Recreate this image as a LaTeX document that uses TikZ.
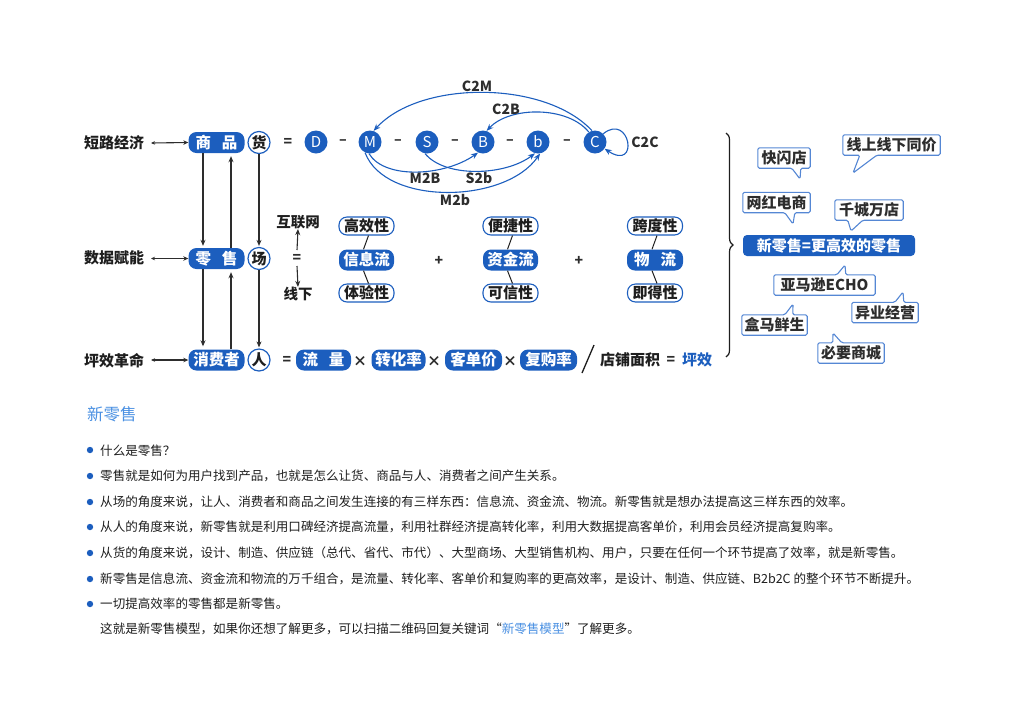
\documentclass[tikz,border=0pt]{standalone}
\usepackage{fontspec}
\setmainfont{Noto Sans CJK SC}
\usetikzlibrary{arrows.meta,calc,decorations.pathreplacing}
\definecolor{blu}{RGB}{28,94,190}
\definecolor{cb}{RGB}{85,135,212}
\definecolor{ttl}{RGB}{74,144,226}
\definecolor{txt}{RGB}{30,30,30}
\definecolor{gr}{RGB}{45,45,45}
\newcommand\fs[1]{\fontsize{#1}{#1}\selectfont}
\newcommand\callB[4]{\draw[cbord] (#1.north west) -- (#1.north east) -- (#1.south east) -- ($(#1.south west)+(#3,0)$) -- #4 -- ($(#1.south west)+(#2,0)$) -- (#1.south west) -- cycle;}
\newcommand\callT[4]{\draw[cbord] (#1.south west) -- (#1.south east) -- (#1.north east) -- ($(#1.north west)+(#3,0)$) -- #4 -- ($(#1.north west)+(#2,0)$) -- (#1.north west) -- cycle;}
\begin{document}
\begin{tikzpicture}[x=1pt,y=-1pt,
  lab/.style={font=\bfseries\fs{15}, text=txt, inner sep=0pt},
  sym/.style={font=\bfseries\fs{14}, text=gr, inner sep=0pt},
  pill/.style={fill=blu, text=white, font=\bfseries\fs{15.5}, rounded corners=8pt, minimum height=21pt, minimum width=56pt, inner sep=0pt},
  opill/.style={draw=blu, fill=white, line width=1.1pt, text=txt, font=\bfseries\fs{15}, rounded corners=8pt, minimum height=18pt, minimum width=55pt, inner sep=0pt},
  circ/.style={circle, fill=blu, text=white, minimum size=23pt, inner sep=0pt, font=\fs{15}},
  ocirc/.style={circle, draw=blu, line width=1.2pt, fill=white, text=txt, minimum size=22pt, inner sep=0pt, font=\bfseries\fs{15}},
  arcl/.style={draw=blu, line width=1.1pt, -{Stealth[length=7pt,width=5.5pt]}},
  alab/.style={font=\bfseries\fs{14}, text=gr, inner sep=0pt},
  varr/.style={draw=gr, line width=1.1pt, -{Stealth[length=6pt,width=5pt]}},
  tie/.style={draw=txt, line width=1pt},
  callt/.style={font=\bfseries\fs{15}, text=gr, inner sep=0pt, minimum height=20pt},
  cbord/.style={draw=cb, line width=1.1pt, rounded corners=1.5pt},
  body/.style={anchor=west, font=\fs{12.55}, text=txt, inner sep=0pt},
  dot/.style={fill=blu}
]
\useasboundingbox (0,0) rectangle (1024,716);

% left labels
\node[lab] (l1) at (114,143) {短路经济};
\node[lab] (l2) at (114,258) {数据赋能};
\node[lab] (l3) at (114,361) {坪效革命};

% main pills
\node[pill] (sp) at (216.5,142.5) {商\hspace{11pt}品};
\node[pill] (ls) at (216.5,258.5) {零\hspace{11pt}售};
\node[pill] (xf) at (216.5,360) {消费者};
\node[ocirc] (h) at (259,142.5) {货};
\node[ocirc] (c) at (259,258.5) {场};
\node[ocirc] (r) at (259,360) {人};

\coordinate (l1a) at (151,143);
\coordinate (l2a) at (151,258.5);
\coordinate (l3a) at (151,360);
\draw[gr, line width=1.1pt, {Stealth[length=4pt,width=3.5pt]}-{Stealth[length=5pt,width=4.5pt]}] (l1a) -- (sp.west);
\draw[gr, line width=1.1pt, {Stealth[length=4pt,width=3.5pt]}-{Stealth[length=5pt,width=4.5pt]}] (l2a) -- (ls.west);
\draw[gr, line width=1.1pt, {Stealth[length=4pt,width=3.5pt]}-{Stealth[length=5pt,width=4.5pt]}] (l3a) -- (xf.west);

% vertical arrows
\draw[varr] ([xshift=-13.5pt]sp.south) -- ([xshift=-13.5pt,yshift=2pt]ls.north);
\draw[varr] ([xshift=14.5pt]ls.north) -- ([xshift=14.5pt,yshift=-3pt]sp.south);
\draw[varr] (h.south) -- ([yshift=1pt]c.north);
\draw[varr] ([xshift=-13.5pt]ls.south) -- ([xshift=-13.5pt,yshift=3pt]xf.north);
\draw[varr] ([xshift=14.5pt]xf.north) -- ([xshift=14.5pt,yshift=-3pt]ls.south);
\draw[varr] (c.south) -- ([yshift=1pt]r.north);

% row 1 chain
\node[sym] (eq1) at (288,142) {=};
\node[circ] (D) at (316,142) {D};
\node[sym] at (343,142) {–};
\node[circ] (M) at (370,142) {M};
\node[sym] at (398,142) {–};
\node[circ] (S) at (427,142) {S};
\node[sym] at (455,142) {–};
\node[circ] (B) at (483,142) {B};
\node[sym] at (510,142) {–};
\node[circ] (b) at (538,142) {b};
\node[sym] at (567,142) {–};
\node[circ] (C) at (595,142) {C};

\draw[arcl] (C.105) .. controls (545,80) and (420,80) .. (M.72);
\draw[arcl] (C.122) .. controls (568,106) and (510,106) .. (B.72);
\draw[arcl] (C.45) .. controls (630,112) and (640,172) .. (C.-35);
\draw[arcl] (M.-95) .. controls (385,180) and (445,176) .. (B.-115);
\draw[arcl] (S.-100) .. controls (445,178) and (505,176) .. (b.-105);
\draw[arcl] (M.-115) .. controls (385,206) and (505,204) .. (b.-80);

\node[alab] at (477,86) {C2M};
\node[alab] at (506,109) {C2B};
\node[alab] at (645,142) {C2C};
\node[alab] at (425,178) {M2B};
\node[alab] at (479,178) {S2b};
\node[alab] at (455,200) {M2b};

% row 2
\node[lab,font=\bfseries\fs{14.5}] (hl) at (298,222) {互联网};
\node[sym] (eq2) at (297,258) {=};
\node[lab,font=\bfseries\fs{14.5}] (xx) at (298,294) {线下};
\draw[varr] (297,250) -- (hl.south);
\draw[varr] (297,266) -- (xx.north);

\node[opill] (t1) at (366.5,226) {高效性};
\node[pill,minimum width=55pt] (m1) at (366.5,260) {信息流};
\node[opill] (b1) at (366.5,293) {体验性};
\node[opill] (t2) at (510.5,226) {便捷性};
\node[pill,minimum width=55pt] (m2) at (510.5,260) {资金流};
\node[opill] (b2) at (510.5,293) {可信性};
\node[opill] (t3) at (655,226) {跨度性};
\node[pill,minimum width=56pt] (m3) at (655,260) {物\hspace{11pt}流};
\node[opill] (b3) at (655,293) {即得性};
\foreach \i in {1,2,3}{
  \draw[tie] ([xshift=2pt]t\i.south) -- ([xshift=-3pt]m\i.north);
  \draw[tie] ([xshift=-3pt]m\i.south) -- ([xshift=2pt]b\i.north);
}
\node[sym] at (439,261) {+};
\node[sym] at (579,261) {+};

% row 3
\node[sym] at (287,360) {=};
\node[pill,minimum width=55pt] (p1) at (323.5,360) {流\hspace{11pt}量};
\node[sym] at (360,361) {×};
\node[pill,minimum width=54pt] (p2) at (398.5,360) {转化率};
\node[sym] at (434,361) {×};
\node[pill,minimum width=57pt] (p3) at (473.5,360) {客单价};
\node[sym] at (510,361) {×};
\node[pill,minimum width=57pt] (p4) at (548.5,360) {复购率};
\coordinate (sl1) at (582,373);
\coordinate (sl2) at (594,345);
\draw[draw=txt, line width=1.3pt] (sl1) -- (sl2);
\node[lab,anchor=west] (dm) at (600,360) {店铺面积};
\node[sym] (eq3) at (671,360) {=};
\node[lab,anchor=west,text=blu] (px) at (682,360) {坪效};

% brace
\draw[decorate, decoration={brace, amplitude=7pt}, line width=1.2pt, draw=txt] (726,133) -- (726,357);

% right callouts
\node[fill=blu, text=white, font=\bfseries\fs{15}, rounded corners=4pt, minimum width=172pt, minimum height=21pt, inner sep=0pt] (nr) at (829,245.5) {新零售=更高效的零售};

\node[callt, minimum width=52pt] (k1) at (784,158) {快闪店};
\node[callt, minimum width=97pt] (k2) at (891.5,145) {线上线下同价};
\node[callt, minimum width=67pt] (k3) at (776.5,202.5) {网红电商};
\node[callt, minimum width=68pt] (k4) at (869,210) {千城万店};
\node[callt, minimum width=101pt] (k5) at (824.5,285) {亚马逊ECHO};
\node[callt, minimum width=65pt] (k6) at (774.5,325) {盒马鲜生};
\node[callt, minimum width=66pt] (k7) at (885,312.5) {异业经营};
\node[callt, minimum width=66pt] (k8) at (851,353) {必要商城};
\coordinate (q1) at (800,179);
\coordinate (q2) at (853,173);
\coordinate (q3) at (793,224);
\coordinate (q4) at (851,231);
\coordinate (q5) at (845,265);
\coordinate (q6) at (793,304);
\coordinate (q7) at (903,292);
\coordinate (q8) at (833,333);
\callB{k1}{34}{43}{(q1)}
\callB{k2}{17}{34}{(q2)}
\callB{k3}{42}{52}{(q3)}
\callB{k4}{13}{28}{(q4)}
\callT{k5}{63}{72}{(q5)}
\callT{k6}{43}{51}{(q6)}
\callT{k7}{43}{52}{(q7)}
\callT{k8}{15}{24}{(q8)}

% text section
\node[anchor=west, font=\fs{16.5}, text=ttl, inner sep=0pt] (title) at (87,414) {新零售};
\foreach \y in {450,476,502,527,553,579,604}{ \fill[dot] (90,\y) circle (3.2); }
\node[body] (t1x) at (100,451) {什么是零售？};
\node[body] (t2x) at (100,476) {零售就是如何为用户找到产品，也就是怎么让货、商品与人、消费者之间产生关系。};
\node[body] (t3x) at (100,502) {从场的角度来说，让人、消费者和商品之间发生连接的有三样东西：信息流、资金流、物流。新零售就是想办法提高这三样东西的效率。};
\node[body] (t4x) at (100,527) {从人的角度来说，新零售就是利用口碑经济提高流量，利用社群经济提高转化率，利用大数据提高客单价，利用会员经济提高复购率。};
\node[body] (t5x) at (100,553) {从货的角度来说，设计、制造、供应链（总代、省代、市代）、大型商场、大型销售机构、用户，只要在任何一个环节提高了效率，就是新零售。};
\node[body] (t6x) at (100,579) {新零售是信息流、资金流和物流的万千组合，是流量、转化率、客单价和复购率的更高效率，是设计、制造、供应链、B2b2C 的整个环节不断提升。};
\node[body] (t7x) at (100,604) {一切提高效率的零售都是新零售。};
\node[body] (t8x) at (100,629) {这就是新零售模型，如果你还想了解更多，可以扫描二维码回复关键词“{\color{ttl}新零售模型}”了解更多。};
\end{tikzpicture}
\end{document}
